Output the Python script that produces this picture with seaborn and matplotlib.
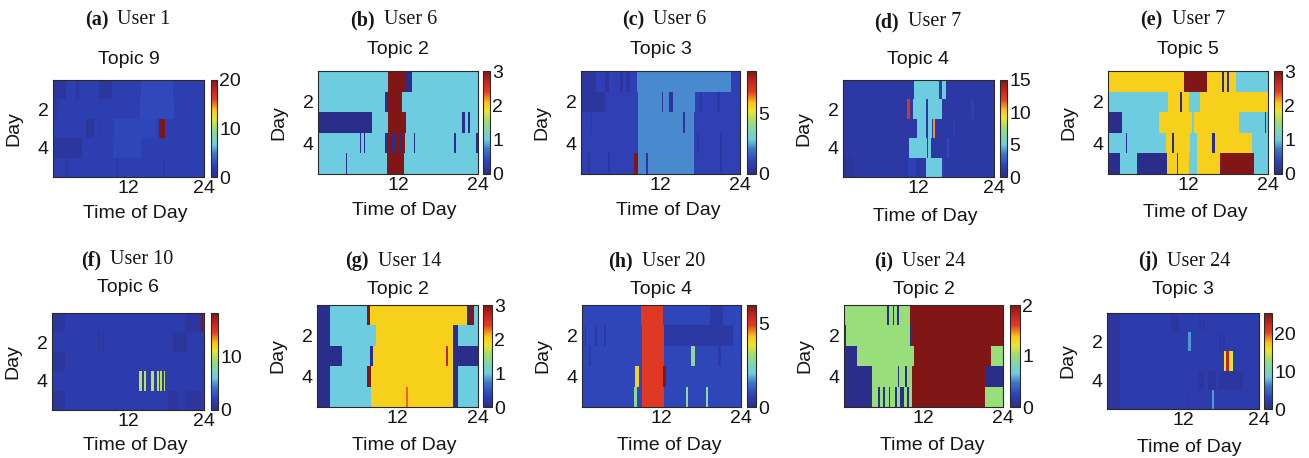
import numpy as np
import matplotlib
matplotlib.use("Agg")
import matplotlib.pyplot as plt
import seaborn as sns
from matplotlib.colors import LinearSegmentedColormap

sns.set_theme(style="white")
plt.rcParams['font.family'] = ['Liberation Sans', 'DejaVu Sans']

# ---------------- data ----------------
N_SLOTS = 144                      # 10-minute time slots per day
DAYS = [1, 2, 3, 4, 5]
X_TICK_HOURS = [12, 24]
X_TICK_LABELS = ['12', '24']
Y_TICK_DAYS = [2, 4]
Y_TICK_LABELS = ['2', '4']

PANEL_LETTERS = ['a', 'b', 'c', 'd', 'e', 'f', 'g', 'h', 'i', 'j']
PANEL_USERS = [1, 6, 6, 7, 7, 10, 14, 20, 24, 24]
PANEL_TOPICS = [9, 2, 3, 4, 5, 6, 2, 4, 2, 3]
PANEL_VMAX = [20, 3, 8.5, 15, 3, 18.3, 3, 6.1, 2, 25.5]
PANEL_CBAR_TICKS = [[0, 10, 20], [0, 1, 2, 3], [0, 5], [0, 5, 10, 15], [0, 1, 2, 3],
                    [0, 10], [0, 1, 2, 3], [0, 5], [0, 1, 2], [0, 10, 20]]

# segments: (day, start hour, end hour, value), later ones override earlier
A_BASE = [2, 2, 2, 2, 2]
A_SEGS = [(1, 0.2, 2, 1), (1, 3.6, 4.1, 1), (1, 7.3, 9.4, 1), (1, 14, 19, 2.7),
          (2, 13.9, 19.1, 2.7), (2, 0, 1, 1.5),
          (3, 5.2, 6.5, 1), (3, 7.3, 7.5, 1), (3, 9.6, 16.5, 2.6), (3, 16.8, 17.8, 20),
          (4, 0, 4.6, 1), (4, 9.5, 14, 2.6),
          (5, 2, 2.3, 1.2), (5, 10, 10.3, 1.3), (5, 17.5, 17.8, 1.3)]

B_BASE = [1, 1, 1, 1, 1]
B_SEGS = [(1, 10.5, 13.1, 3), (1, 13.1, 14.1, 0),
          (2, 10.0, 10.3, 0), (2, 10.3, 12.7, 3),
          (3, 0, 8.1, 0), (3, 10.5, 13.1, 3), (3, 21.7, 21.95, 0), (3, 22.5, 22.8, 0),
          (4, 6.3, 6.55, 0), (4, 6.8, 7.05, 0), (4, 10.0, 10.3, 0), (4, 10.3, 12.95, 3),
          (4, 11.2, 11.6, 0), (4, 12.3, 12.6, 0), (4, 14.3, 14.5, 0), (4, 20.4, 20.6, 0),
          (4, 23.75, 24, 0),
          (5, 4.1, 4.35, 0), (5, 10.4, 12.9, 3)]

C_BASE = [0.9, 0.9, 0.9, 0.9, 0.9]
C_SEGS = [(1, 0, 2.4, 0.4), (1, 3.6, 4.1, 0.4), (1, 5.9, 6.4, 0.4), (1, 6.9, 7.4, 0.4),
          (1, 8.5, 22.75, 2.2),
          (2, 0, 3.6, 0.4), (2, 8.65, 17.2, 2.2), (2, 12.1, 12.35, 0.4), (2, 13.3, 13.8, 0.4),
          (2, 18, 18.3, 0.5), (2, 20.5, 21, 0.5),
          (3, 1.5, 1.75, 0.5), (3, 8.65, 17.0, 2.2), (3, 15.4, 15.65, 0.4),
          (4, 8.65, 17.0, 2.2), (4, 17.5, 17.8, 0.5), (4, 21, 21.3, 0.4),
          (5, 1, 1.25, 0.5), (5, 4, 4.25, 0.5), (5, 8.05, 8.65, 8.5), (5, 8.65, 17, 2.2),
          (5, 9.9, 10.15, 0.5), (5, 21, 21.3, 0.5)]

D_BASE = [1, 1, 1, 1, 1]
D_SEGS = [(1, 11.3, 16.3, 5), (1, 15.4, 15.7, 1.5),
          (2, 10.2, 10.6, 12.5), (2, 11.1, 15.7, 5), (2, 13.2, 13.45, 1), (2, 20.4, 20.9, 1.6),
          (3, 11.9, 13.2, 5), (3, 13.2, 13.5, 1), (3, 13.5, 14.2, 5), (3, 14.3, 14.65, 11),
          (3, 17.5, 17.8, 1.5),
          (4, 10.5, 13.3, 5), (4, 13.3, 13.5, 1), (4, 13.5, 14.0, 5), (4, 16.5, 16.9, 2),
          (5, 0, 1.6, 0.6), (5, 10.4, 11.7, 1.6), (5, 13.2, 15.7, 5), (5, 15.8, 16.05, 14)]

E_BASE = [2, 1, 1, 1, 1]
E_SEGS = [(1, 11.3, 14.9, 3), (1, 17.1, 17.35, 0), (1, 17.8, 18.15, 0), (1, 19.1, 24, 1),
          (2, 9.07, 12.2, 2), (2, 10.9, 11.15, 0), (2, 13.8, 24, 2),
          (3, 0, 2.15, 0), (3, 7.67, 19.6, 2), (3, 12.7, 12.9, 1), (3, 23.5, 23.75, 0),
          (4, 2.65, 2.9, 0), (4, 8.67, 12.4, 2), (4, 9.67, 9.9, 0), (4, 13.3, 21.7, 2),
          (4, 15.7, 15.95, 0),
          (5, 0, 1.9, 0), (5, 4.26, 8.9, 0), (5, 8.9, 12.2, 2), (5, 10.3, 10.55, 0),
          (5, 13.3, 16.8, 2), (5, 16.8, 21.8, 3)]

F_BASE = [1.6, 1.6, 1.6, 1.6, 1.6]
F_SEGS = [(1, 0, 2, 0.9), (1, 21, 23.5, 0.9), (1, 23.5, 23.9, 18.3),
          (2, 7.3, 7.55, 0.9), (2, 7.9, 8.15, 0.9), (2, 19.1, 21.3, 0.9),
          (3, 0, 2, 0.9),
          (4, 13.6, 14.1, 10), (4, 14.5, 14.9, 10), (4, 15.6, 16.1, 10), (4, 16.5, 16.9, 10),
          (4, 17.0, 17.4, 10), (4, 17.6, 17.9, 10),
          (5, 0, 2, 0.9), (5, 18.4, 19.9, 0.9), (5, 21, 23.5, 0.9)]

G_BASE = [1, 1, 1, 1, 1]
G_SEGS = [(1, 0, 2, 0), (1, 7.46, 7.86, 3), (1, 7.86, 22.4, 2), (1, 22.4, 22.8, 0),
          (1, 22.8, 23.4, 3),
          (2, 0, 2, 0), (2, 8.76, 20.4, 2), (2, 20.4, 21.0, 0),
          (3, 0, 3.6, 0), (3, 7.86, 8.36, 0), (3, 8.36, 20.4, 2), (3, 19.15, 19.5, 2.7),
          (3, 20.4, 24, 0),
          (4, 0, 2, 0), (4, 7.46, 7.96, 3), (4, 7.96, 20.4, 2), (4, 20.4, 21.0, 0),
          (5, 0, 2, 0), (5, 7.96, 20.4, 2), (5, 13.3, 13.5, 2.3), (5, 20.4, 21, 0)]

H_BASE = [0.8, 0.8, 0.8, 0.8, 0.8]
H_SEGS = [(1, 8.8, 12.2, 5), (1, 19.4, 21.4, 0.4),
          (2, 0.5, 0.75, 0.4), (2, 2, 2.3, 0.4), (2, 3.3, 3.6, 0.4), (2, 9.05, 12.4, 5),
          (2, 12.4, 22.9, 0.4),
          (3, 1, 1.3, 0.4), (3, 9.05, 12.3, 5), (3, 16.45, 16.95, 2.8), (3, 20.5, 21, 0.4),
          (4, 8.05, 8.65, 4), (4, 9.05, 12.2, 5), (4, 12.2, 12.7, 6.1),
          (5, 7.9, 8.3, 2.8), (5, 9.05, 12.3, 5), (5, 15.6, 15.95, 2.8), (5, 18.6, 19.0, 2.8)]

I_BASE = [1, 1, 1, 1, 1]
I_SEGS = [(1, 6.5, 6.8, 0), (1, 7.25, 7.55, 0), (1, 8.0, 8.3, 0), (1, 10.06, 24, 2),
          (2, 0, 0.35, 0), (2, 10.06, 10.3, 0), (2, 10.3, 24, 2),
          (3, 0, 1.96, 0), (3, 10.57, 22.1, 2),
          (4, 0, 4.1, 0), (4, 8.15, 8.4, 0), (4, 9.15, 9.5, 0), (4, 10.3, 21.3, 2),
          (4, 21.3, 24, 0),
          (5, 0, 4.1, 0), (5, 5.2, 5.5, 0), (5, 5.9, 6.2, 0), (5, 6.8, 7.05, 0),
          (5, 7.65, 8.0, 0), (5, 8.55, 9.0, 0), (5, 9.5, 9.8, 0), (5, 10.4, 21.3, 2)]

J_BASE = [2.2, 2.2, 2.2, 2.2, 2.2]
J_SEGS = [(1, 0, 1.95, 1.2), (2, 0, 1.95, 1.2), (3, 0, 1.95, 1.2), (4, 0, 1.95, 1.2),
          (5, 0, 1.95, 1.2),
          (1, 10.2, 11.3, 1.3), (1, 14.5, 14.8, 1.5), (1, 15.2, 15.5, 1.5),
          (2, 12.9, 13.3, 7), (2, 17.7, 18.0, 1.3), (2, 18.3, 18.6, 1.3),
          (3, 18.5, 18.85, 16), (3, 18.85, 19.4, 23), (3, 19.4, 19.8, 15),
          (4, 14.3, 15.3, 1.3), (4, 16.0, 17.1, 1.3), (4, 17.7, 21.5, 1.3),
          (5, 12.8, 13.0, 1.5), (5, 16.5, 16.85, 7)]

PANEL_BASES = [A_BASE, B_BASE, C_BASE, D_BASE, E_BASE, F_BASE, G_BASE, H_BASE, I_BASE, J_BASE]
PANEL_SEGS = [A_SEGS, B_SEGS, C_SEGS, D_SEGS, E_SEGS, F_SEGS, G_SEGS, H_SEGS, I_SEGS, J_SEGS]


def build(base, segs):
    grid = np.repeat(np.array(base, float)[:, None], N_SLOTS, axis=1)
    per_hour = N_SLOTS / 24.0
    for day, s, e, v in segs:
        i0 = int(round(s * per_hour))
        i1 = max(i0 + 1, int(round(e * per_hour)))
        grid[day - 1, i0:i1] = v
    return grid


# ---------------- style / layout ----------------
W, H = 1309, 458
CMAP = LinearSegmentedColormap.from_list("mutedjet", [
    (0.00, (42/255, 46/255, 138/255)),
    (0.12, (46/255, 66/255, 185/255)),
    (0.24, (62/255, 120/255, 200/255)),
    (0.33, (108/255, 204/255, 225/255)),
    (0.50, (150/255, 222/255, 125/255)),
    (0.61, (240/255, 228/255, 40/255)),
    (0.69, (250/255, 200/255, 22/255)),
    (0.80, (230/255, 62/255, 36/255)),
    (0.88, (205/255, 40/255, 30/255)),
    (1.00, (128/255, 22/255, 22/255)),
])

HEAT_BOXES = [(53, 80, 204, 177), (318, 71, 478, 174), (581, 71, 740, 174),
              (843, 80, 994, 177), (1108, 71, 1268, 174),
              (52, 313, 204, 410), (317, 305, 478, 407), (582, 305, 741, 407),
              (844, 305, 1003, 407), (1107, 313, 1259, 409)]
CBAR_X = [(211, 217), (483, 490), (747, 756), (1000, 1007), (1274, 1282),
          (211, 218), (483, 492), (747, 756), (1010, 1020), (1264, 1272)]
SUB_CX = [127.5, 394, 664, 918, 1182.5, 127.5, 393.5, 657, 920, 1184.5]
SUB_Y = [20, 20, 20, 22, 20, 260, 261, 261, 261, 261]
TOPIC_Y = [60, 50, 50, 60, 50, 288, 289, 289, 289, 289]
XLAB_Y = [214, 210, 210, 217, 213, 446, 446, 446, 446, 447]

FS = 14
TXT = '#151515'


def fbox(x0, y0, x1, y1):
    return [x0 / W, 1 - y1 / H, (x1 - x0) / W, (y1 - y0) / H]


fig = plt.figure(figsize=(W / 100, H / 100), dpi=100)
fig.patch.set_facecolor('white')
renderer = fig.canvas.get_renderer()

for k in range(10):
    x0, y0, x1, y1 = HEAT_BOXES[k]
    cx0, cx1 = CBAR_X[k]
    ax = fig.add_axes(fbox(x0, y0, x1, y1))
    cax = fig.add_axes(fbox(cx0, y0, cx1, y1))
    grid = build(PANEL_BASES[k], PANEL_SEGS[k])
    sns.heatmap(grid, ax=ax, cmap=CMAP, vmin=0, vmax=PANEL_VMAX[k], cbar_ax=cax,
                xticklabels=False, yticklabels=False,
                cbar_kws={'ticks': PANEL_CBAR_TICKS[k]})
    ax.set_xticks([h * N_SLOTS / 24 for h in X_TICK_HOURS])
    ax.set_xticklabels(X_TICK_LABELS)
    ax.set_yticks([d - 0.5 for d in Y_TICK_DAYS])
    ax.set_yticklabels(Y_TICK_LABELS, rotation=0)
    ax.tick_params(axis='both', direction='in', length=3, width=0.6, color='#333333',
                   labelsize=FS, labelcolor=TXT, top=True, right=True,
                   bottom=True, left=True)
    ax.tick_params(axis='x', pad=2.5)
    ax.tick_params(axis='y', pad=3)
    for sp in ax.spines.values():
        sp.set_visible(True)
        sp.set_color('#2a2a2a')
        sp.set_linewidth(0.8)
    ax.set_xlabel('')
    ax.set_ylabel('')

    cb = ax.collections[0].colorbar
    cb.outline.set_linewidth(0.8)
    cb.outline.set_edgecolor('#2a2a2a')
    cax.tick_params(direction='in', length=2, width=0.5, color='#333333',
                    labelsize=FS, labelcolor=TXT, pad=1.5)
    cax.set_yticklabels([str(t) for t in PANEL_CBAR_TICKS[k]])

    # labels
    hx = (x0 + x1) / 2
    fig.text(((x0 + cx1) / 2) / W, 1 - XLAB_Y[k] / H, 'Time of Day', ha='center',
             va='center', fontsize=FS, color=TXT)
    fig.text((x0 - 39) / W, 1 - ((y0 + y1) / 2) / H, 'Day', ha='center', va='center',
             rotation=90, fontsize=FS, color=TXT)
    fig.text(hx / W, 1 - TOPIC_Y[k] / H, f'Topic {PANEL_TOPICS[k]}', ha='center',
             va='center', fontsize=FS, color=TXT)

    # subtitle "(x) User n": bold letter + regular text, serif
    t1 = fig.text(0, 1 - SUB_Y[k] / H, f'({PANEL_LETTERS[k]})', ha='left', va='center',
                  fontsize=14.5, fontweight='bold', family=['Liberation Serif', 'DejaVu Serif'],
                  color=TXT)
    t2 = fig.text(0, 1 - SUB_Y[k] / H, f'User {PANEL_USERS[k]}', ha='left', va='center',
                  fontsize=14.5, family=['Liberation Serif', 'DejaVu Serif'], color=TXT)
    w1 = t1.get_window_extent(renderer).width
    w2 = t2.get_window_extent(renderer).width
    gap = 9
    left = SUB_CX[k] - (w1 + gap + w2) / 2
    t1.set_x(left / W)
    t2.set_x((left + w1 + gap) / W)

fig.savefig('out.png', dpi=100, facecolor='white')
